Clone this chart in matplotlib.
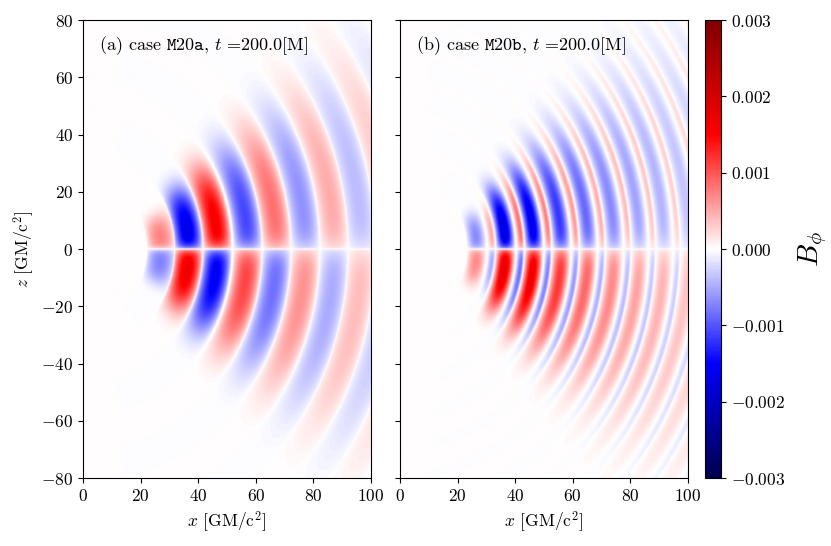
import numpy as np
import matplotlib
matplotlib.use("Agg")
import matplotlib.pyplot as plt
from matplotlib.ticker import FuncFormatter

plt.rcParams["font.family"] = "serif"
plt.rcParams["font.serif"] = ["cmr10"]
plt.rcParams["mathtext.fontset"] = "cm"
plt.rcParams["axes.formatter.use_mathtext"] = True
plt.rcParams["font.size"] = 12.5

# panel (a): ring centres [GM/c^2], peak B_phi in upper half [1e-3], angular extent [deg]
ring_r_a = [27, 36.5, 46.5, 57, 67, 77, 87, 96.5, 106, 115.5, 125]
ring_amp_a = [0.75, -1.7, 1.6, -1.1, 0.85, -0.65, 0.5, -0.4, 0.32, -0.26, 0.2]
ring_ang_a = [25, 32.5, 34.5, 35.5, 36, 36.5, 37, 37, 37.5, 37.5, 38]

# panel (b): sharp fronts [GM/c^2], broad (blue) and thin (red) lobe peaks [1e-3], extent [deg]
edge_r_b = [23, 33, 43, 52.5, 62, 71, 80, 88.5, 97, 105.5, 114, 122.5, 131]
blue_amp_b = [-0.7, -1.8, -1.7, -1.2, -0.9, -0.7, -0.55, -0.45, -0.35, -0.28, -0.22, -0.18]
red_amp_b = [0.5, 0.85, 0.75, 0.6, 0.48, 0.4, 0.34, 0.29, 0.24, 0.2, 0.16, 0.13]
ang_b = [26, 33, 35, 36.5, 37.5, 38, 38.5, 39, 39.5, 40, 40, 40]

labels = [r"(a) case $\mathtt{M20a}$, $t$ =200.0[M]",
          r"(b) case $\mathtt{M20b}$, $t$ =200.0[M]"]
xticks = [0, 20, 40, 60, 80, 100]
zticks = [-80, -60, -40, -20, 0, 20, 40, 60, 80]
cbar_ticks = [-0.003, -0.002, -0.001, 0.0, 0.001, 0.002, 0.003]

x = np.linspace(0, 100, 501)
z = np.linspace(-80, 80, 801)
X, Z = np.meshgrid(x, z)
R = np.sqrt(X**2 + (0.88 * Z)**2)
TH = np.degrees(np.arctan2(np.abs(Z), X))
SIDE = np.sign(Z) * np.tanh(np.abs(Z) / 0.4) * (0.35 + 0.65 * np.tanh(TH / 4.0))


def envelope(width):
    return np.exp(-(TH / width)**4.5)


def field_a():
    f = np.zeros_like(R)
    half = 5.0
    for r0, amp, ang in zip(ring_r_a, ring_amp_a, ring_ang_a):
        d = np.abs(R - r0)
        lobe = np.where(d < half, np.cos(np.pi * np.minimum(d, half) / (2 * half)), 0.0)**0.7
        f += amp * lobe * envelope(ang)
    return f * SIDE * 1e-3


def field_b():
    f = np.zeros_like(R)
    for k in range(len(blue_amp_b)):
        r0, r1 = edge_r_b[k], edge_r_b[k + 1]
        ph = (R - r0) / (r1 - r0)
        inside = (ph >= 0) & (ph < 1)
        v = np.clip(ph / 0.7, 0, 1)
        u = np.clip((ph - 0.7) / 0.3, 0, 1)
        wave = np.where(ph < 0.7, blue_amp_b[k] * np.sin(np.pi * v),
                        red_amp_b[k] * np.sin(np.pi * u**1.6))
        f += np.where(inside, wave, 0.0) * envelope(ang_b[k])
    return f * SIDE * 1e-3


fields = [field_a(), field_b()]

fig = plt.figure(figsize=(8.31, 5.46), dpi=100)
ax1 = fig.add_axes([0.0999, 0.1245, 0.3466, 0.8388])
ax2 = fig.add_axes([0.4813, 0.1245, 0.3466, 0.8388])
cax = fig.add_axes([0.8484, 0.1245, 0.0193, 0.8388])

for ax, f, lab in zip([ax1, ax2], fields, labels):
    im = ax.imshow(f, extent=[0, 100, -80, 80], origin="lower", cmap="seismic",
                   vmin=-0.003, vmax=0.003, aspect="auto", interpolation="bilinear")
    ax.set_xlim(0, 100)
    ax.set_ylim(-80, 80)
    ax.set_xticks(xticks)
    ax.set_yticks(zticks)
    ax.set_xlabel(r"$x$ [GM/c$^2$]")
    ax.text(0.055, 0.968, lab, transform=ax.transAxes, ha="left", va="top", fontsize=13)

ax1.set_ylabel(r"$z$ [GM/c$^2$]")
ax2.tick_params(labelleft=False)

cb = fig.colorbar(im, cax=cax, ticks=cbar_ticks)
cb.ax.yaxis.set_major_formatter(FuncFormatter(lambda v, p: "$%.3f$" % (0.0 if abs(v) < 1e-9 else v)))
cb.set_label(r"$B_\phi$", fontsize=21, labelpad=8)

fig.savefig("out.png", dpi=100)
